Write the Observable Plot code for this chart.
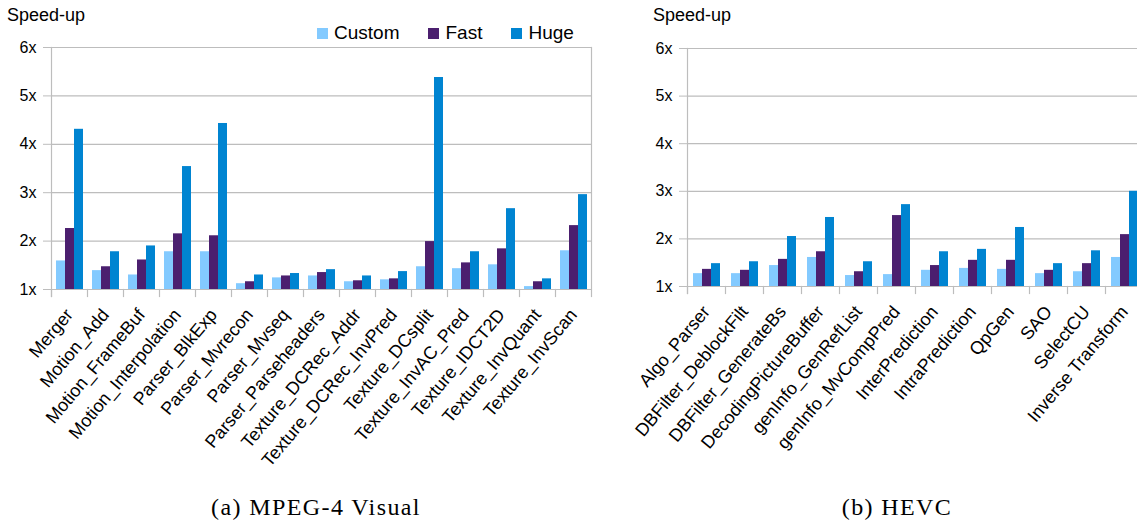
<!DOCTYPE html>
<html>
<head>
<meta charset="utf-8">
<script src="https://cdn.jsdelivr.net/npm/d3@7"></script>
<script src="https://cdn.jsdelivr.net/npm/@observablehq/plot@0.6"></script>
<style>
  body { margin: 0; background: #fff; font-family: "Liberation Sans", Arial, sans-serif; color: #000; }
  #fig { position: relative; width: 1137px; height: 522px; overflow: hidden; }
  .panel { position: absolute; top: 0; }
  .panel svg { max-width: none; }
  .ylabel { position: absolute; top: 5px; font-size: 18px; }
  .legend { position: absolute; top: 22px; left: 317px; display: flex; align-items: center; font-size: 19px; }
  .legend .item { display: flex; align-items: center; margin-right: 29px; }
  .legend .sw { width: 11px; height: 11px; margin-right: 6px; }
  .caption { position: absolute; top: 494px; font-family: "Liberation Serif", serif; font-size: 24px; letter-spacing: 1.4px; transform: translateX(-50%); white-space: nowrap; }
</style>
</head>
<body>
<div id="fig"></div>
<script>
// Series and colours shared by both panels
const seriesNames = ["Custom", "Fast", "Huge"];
const seriesColors = ["#83caff", "#4b1f6f", "#0084d1"];
const yTicks = [1, 2, 3, 4, 5, 6];

// (a) MPEG-4 Visual actors
const mpegCategories = [
  "Merger", "Motion_Add", "Motion_FrameBuf", "Motion_Interpolation", "Parser_BlkExp",
  "Parser_Mvrecon", "Parser_Mvseq", "Parser_Parseheaders", "Texture_DCRec_Addr",
  "Texture_DCRec_InvPred", "Texture_DCsplit", "Texture_InvAC_Pred", "Texture_IDCT2D",
  "Texture_InvQuant", "Texture_InvScan"
];
const mpegCustom = [1.59, 1.39, 1.30, 1.78, 1.78, 1.12, 1.24, 1.28, 1.16, 1.20, 1.47, 1.43, 1.51, 1.06, 1.80];
const mpegFast   = [2.26, 1.47, 1.61, 2.15, 2.11, 1.16, 1.28, 1.35, 1.18, 1.22, 1.99, 1.55, 1.84, 1.16, 2.32];
const mpegHuge   = [4.31, 1.78, 1.90, 3.54, 4.43, 1.30, 1.33, 1.41, 1.28, 1.37, 5.38, 1.78, 2.67, 1.22, 2.96];

// (b) HEVC actors
const hevcCategories = [
  "Algo_Parser", "DBFilter_DeblockFilt", "DBFilter_GenerateBs", "DecodingPictureBuffer",
  "genInfo_GenRefList", "genInfo_MvCompPred", "InterPrediction", "IntraPrediction",
  "QpGen", "SAO", "SelectCU", "Inverse Transform"
];
const hevcCustom = [1.27, 1.27, 1.44, 1.61, 1.23, 1.25, 1.34, 1.38, 1.36, 1.27, 1.31, 1.61];
const hevcFast   = [1.36, 1.34, 1.57, 1.73, 1.31, 2.49, 1.44, 1.55, 1.55, 1.34, 1.48, 2.09];
const hevcHuge   = [1.48, 1.52, 2.05, 2.45, 1.52, 2.72, 1.73, 1.78, 2.24, 1.48, 1.75, 3.00];

const gridColor = "#bdbdbd";

function rows(categories, ...columns) {
  const out = [];
  categories.forEach((category, i) => {
    seriesNames.forEach((series, j) => out.push({category, series, value: columns[j][i]}));
  });
  return out;
}

function speedupChart({categories, data, width, height, marginLeft, marginRight, marginTop, marginBottom}) {
  const plotH = height - marginTop - marginBottom;
  return Plot.plot({
    width, height, marginLeft, marginRight, marginTop, marginBottom,
    style: {fontFamily: "Liberation Sans, Arial, sans-serif", color: "#000", background: "transparent"},
    fx: {domain: categories, paddingInner: 0, paddingOuter: 0, axis: null, label: null},
    x: {domain: seriesNames, paddingInner: 0, paddingOuter: 0.45, axis: null, label: null},
    y: {domain: [1, 6], axis: null, label: null},
    color: {domain: seriesNames, range: seriesColors},
    marks: [
      Plot.gridY(yTicks, {stroke: gridColor, strokeOpacity: 1, strokeWidth: 1.2}),
      Plot.barY(data, {fx: "category", x: "series", y1: 1, y2: "value", fill: "series"}),
      // category separators below the baseline
      Plot.frame({anchor: "left", insetTop: plotH, insetBottom: -7, stroke: gridColor, strokeWidth: 1.2}),
      Plot.frame({anchor: "left", facetAnchor: "left", insetBottom: -7, stroke: gridColor, strokeWidth: 1.2}),
      Plot.frame({anchor: "right", facetAnchor: "right", insetBottom: -7, stroke: gridColor, strokeWidth: 1.2}),
      Plot.axisY({ticks: yTicks, tickFormat: d => `${d}x`, tickSize: 8, tickPadding: 7, fontSize: 16, stroke: gridColor, strokeOpacity: 1, label: null}),
      Plot.axisFx({anchor: "bottom", tickSize: 0, tickPadding: 22, dx: 0, tickRotate: -50, fontSize: 18, label: null})
    ]
  });
}

const fig = document.getElementById("fig");

function addPanel(svg, left) {
  const div = document.createElement("div");
  div.className = "panel";
  div.style.left = left + "px";
  div.appendChild(svg);
  fig.appendChild(div);
}

function addText(cls, text, left) {
  const el = document.createElement("div");
  el.className = cls;
  el.textContent = text;
  el.style.left = left + "px";
  fig.appendChild(el);
}

addPanel(speedupChart({
  categories: mpegCategories,
  data: rows(mpegCategories, mpegCustom, mpegFast, mpegHuge),
  width: 600, height: 522, marginLeft: 48, marginRight: 7, marginTop: 47, marginBottom: 233
}), 0);

addPanel(speedupChart({
  categories: hevcCategories,
  data: rows(hevcCategories, hevcCustom, hevcFast, hevcHuge),
  width: 548, height: 522, marginLeft: 87, marginRight: 5, marginTop: 48, marginBottom: 236
}), 600);

addText("ylabel", "Speed-up", 7);
addText("ylabel", "Speed-up", 653);

// legend for the series colours
const legend = document.createElement("div");
legend.className = "legend";
seriesNames.forEach((name, i) => {
  const item = document.createElement("div");
  item.className = "item";
  const sw = document.createElement("span");
  sw.className = "sw";
  sw.style.background = seriesColors[i];
  item.appendChild(sw);
  item.appendChild(document.createTextNode(name));
  legend.appendChild(item);
});
fig.appendChild(legend);

addText("caption", "(a) MPEG-4 Visual", 316);
addText("caption", "(b) HEVC", 897);
</script>
</body>
</html>
